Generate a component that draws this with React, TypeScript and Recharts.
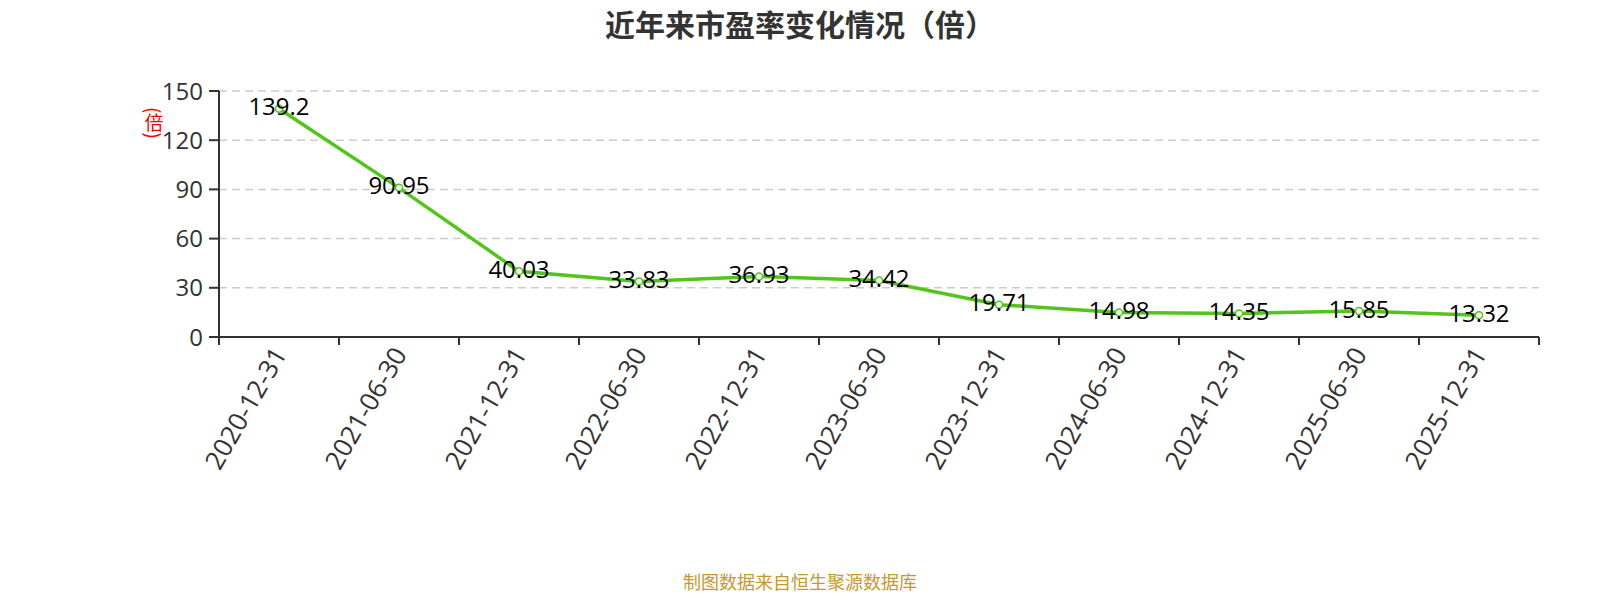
import React from 'react';
import { LineChart, Line, XAxis, YAxis, CartesianGrid, LabelList } from 'recharts';

const categories = ['2020-12-31', '2021-06-30', '2021-12-31', '2022-06-30', '2022-12-31', '2023-06-30', '2023-12-31', '2024-06-30', '2024-12-31', '2025-06-30', '2025-12-31'];
const peValues = [139.2, 90.95, 40.03, 33.83, 36.93, 34.42, 19.71, 14.98, 14.35, 15.85, 13.32];
const yTicks = [0, 30, 60, 90, 120, 150];

const data = categories.map((c, i) => ({ date: c, pe: peValues[i] }));

const FONT = "'Open Sans', 'Noto Sans CJK SC', sans-serif";
const GREEN = '#52c41a';
const TICK_SIZE = 8;

const XTick = (props: any) => {
  const { x, y, payload, index, visibleTicksCount } = props;
  const half = payload && payload.offset ? payload.offset : 0;
  const axisY = y - TICK_SIZE;
  const isLast = index === visibleTicksCount - 1;
  return (
    <g>
      <line x1={x - half} x2={x - half} y1={axisY} y2={axisY + TICK_SIZE} stroke="#333" strokeWidth={2} />
      {isLast ? (
        <line x1={x + half} x2={x + half} y1={axisY} y2={axisY + TICK_SIZE} stroke="#333" strokeWidth={2} />
      ) : null}
      <g transform={`translate(${x},${y + 4})`}>
        <text
          textAnchor="end"
          dominantBaseline="central"
          transform="rotate(-60)"
          fontSize={26}
          fill="#333"
          fontFamily={FONT}
        >
          {payload.value}
        </text>
      </g>
    </g>
  );
};

const ValueLabel = (props: any) => {
  const { x, y, value } = props;
  return (
    <text
      x={x}
      y={y - 3}
      textAnchor="middle"
      dominantBaseline="central"
      fontSize={24}
      fill="#000"
      fontFamily={FONT}
    >
      {value}
    </text>
  );
};

export default function App() {
  return (
    <div style={{ position: 'relative', width: 1584, height: 584, fontFamily: FONT }}>
      <div
        style={{
          position: 'absolute',
          left: 0,
          top: 0,
          width: 1584,
          textAlign: 'center',
          fontSize: 30,
          lineHeight: '30px',
          fontWeight: 'bold',
          color: '#333',
          fontFamily: "'Noto Sans CJK SC', sans-serif",
        }}
      >
        近年来市盈率变化情况（倍）
      </div>
      <div
        style={{
          position: 'absolute',
          left: 146,
          top: 115,
          transform: 'translate(-50%, -50%)',
          writingMode: 'vertical-rl',
          fontSize: 19,
          lineHeight: '19px',
          color: '#ff0000',
          fontFamily: "'Noto Sans CJK SC', sans-serif",
        }}
      >
        (倍)
      </div>
      <LineChart
        width={1584}
        height={584}
        data={data}
        margin={{ top: 83, right: 53, bottom: 0, left: 0 }}
      >
        <CartesianGrid
          vertical={false}
          stroke="#cccccc"
          strokeWidth={1.5}
          strokeDasharray="8 5"
        />
        <XAxis
          dataKey="date"
          scale="band"
          height={255}
          interval={0}
          tick={<XTick />}
          tickSize={TICK_SIZE}
          tickMargin={0}
          tickLine={false}
          axisLine={{ stroke: '#333', strokeWidth: 2 }}
        />
        <YAxis
          width={211}
          domain={[0, 150]}
          ticks={yTicks}
          interval={0}
          tickSize={10}
          tickMargin={6}
          tick={{ fontSize: 24, fill: '#333', fontFamily: FONT }}
          axisLine={{ stroke: '#333', strokeWidth: 2 }}
          tickLine={{ stroke: '#333', strokeWidth: 2 }}
        />
        <Line
          type="linear"
          dataKey="pe"
          stroke={GREEN}
          strokeWidth={3.5}
          dot={{ r: 3.5, fill: '#fff', stroke: GREEN, strokeWidth: 1.5 }}
          activeDot={false}
          isAnimationActive={false}
        >
          <LabelList dataKey="pe" content={<ValueLabel />} />
        </Line>
      </LineChart>
      <div
        style={{
          position: 'absolute',
          left: 0,
          top: 564,
          width: 1584,
          textAlign: 'center',
          fontSize: 18,
          lineHeight: '18px',
          color: '#c8982c',
          fontFamily: "'Noto Sans CJK SC', sans-serif",
        }}
      >
        制图数据来自恒生聚源数据库
      </div>
    </div>
  );
}
